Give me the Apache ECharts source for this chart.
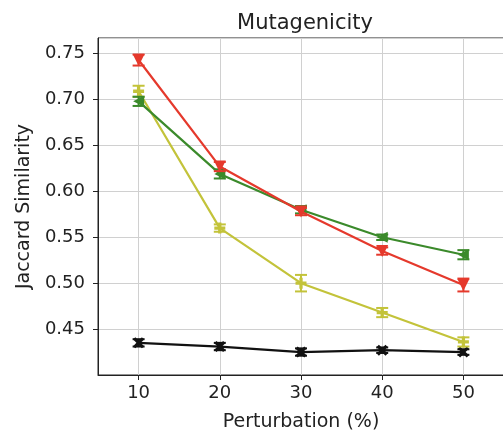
<!DOCTYPE html>
<html><head><meta charset="utf-8">
<script src="https://cdn.jsdelivr.net/npm/echarts@6/dist/echarts.min.js"></script>
<style>html,body{margin:0;padding:0;background:#fff;overflow:hidden}#c{width:508px;height:437px}</style>
</head><body><div id="c"></div>
<script>
const categories = [10, 20, 30, 40, 50];
const redVals = [0.743, 0.627, 0.578, 0.535, 0.498];
const redErr = [0.006, 0.005, 0.004, 0.004, 0.007];
const greenVals = [0.698, 0.619, 0.580, 0.550, 0.531];
const greenErr = [0.005, 0.005, 0.004, 0.003, 0.005];
const oliveVals = [0.709, 0.560, 0.500, 0.468, 0.436];
const oliveErr = [0.006, 0.004, 0.009, 0.005, 0.005];
const blackVals = [0.435, 0.431, 0.425, 0.427, 0.425];
const blackErr = [0.004, 0.004, 0.004, 0.003, 0.003];

const FONT = 'DejaVu Sans';
const X_PATH = 'path://M2,0 L5,3 L8,0 L10,2 L7,5 L10,8 L8,10 L5,7 L2,10 L0,8 L3,5 L0,2 Z';
const PLUS_PATH = 'path://M3.5,0 H6.5 V3.5 H10 V6.5 H6.5 V10 H3.5 V6.5 H0 V3.5 H3.5 Z';

function lineData(vals){ return categories.map((c,i)=>[c, vals[i]]); }
function errData(vals, errs){ return categories.map((c,i)=>[c, vals[i]-errs[i], vals[i]+errs[i]]); }
function errRender(color){
  return function(params, api){
    const x = api.value(0);
    const hi = api.coord([x, api.value(2)]);
    const lo = api.coord([x, api.value(1)]);
    const w = 6;
    const st = {stroke: color, lineWidth: 2};
    return {type:'group', children:[
      {type:'line', shape:{x1:hi[0], y1:hi[1], x2:lo[0], y2:lo[1]}, style: st},
      {type:'line', shape:{x1:hi[0]-w, y1:hi[1], x2:hi[0]+w, y2:hi[1]}, style: st},
      {type:'line', shape:{x1:lo[0]-w, y1:lo[1], x2:lo[0]+w, y2:lo[1]}, style: st}
    ]};
  };
}
function makeSeries(name, vals, errs, color, symbol, size, rotate, z){
  return [
    {type:'line', name, data: lineData(vals), color, lineStyle:{width:2.2, color},
     symbol, symbolSize: size, symbolRotate: rotate, itemStyle:{color}, z, animation:false},
    {type:'custom', name: name+'err', data: errData(vals, errs), renderItem: errRender(color),
     encode:{x:0, y:[1,2]}, z, animation:false}
  ];
}

const chart = echarts.init(document.getElementById('c'), null, {renderer:'canvas'});
chart.setOption({
  animation: false,
  backgroundColor: '#fff',
  title: {text:'Mutagenicity', left: 300, top: 8, textAlign:'center',
    textStyle:{fontFamily: FONT, fontSize: 21, fontWeight:'normal', color:'#222'}},
  grid: {left: 98, top: 38, width: 406, bottom: 60, show: true, borderColor:'#222', borderWidth: 1, backgroundColor:'transparent'},
  xAxis: {type:'value', min: 5, max: 55, splitNumber: 5,
    name:'Perturbation (%)', nameLocation:'middle', nameGap: 38,
    nameTextStyle:{fontFamily: FONT, fontSize: 19, color:'#222'},
    axisLine:{show:true, lineStyle:{color:'#222'}},
    axisTick:{show:true, length:5, lineStyle:{color:'#222'}},
    axisLabel:{fontFamily: FONT, fontSize: 18, color:'#222', margin: 9, showMinLabel:false, showMaxLabel:false},
    splitLine:{show:true, lineStyle:{color:'#d0d0d0', width:1}}},
  yAxis: {type:'value', min: 0.4, max: 0.767, interval: 0.05,
    name:'Jaccard Similarity', nameLocation:'middle', nameGap: 64,
    nameTextStyle:{fontFamily: FONT, fontSize: 19, color:'#222'},
    axisLine:{show:true, lineStyle:{color:'#222'}},
    axisTick:{show:true, length:5, lineStyle:{color:'#222'}},
    axisLabel:{fontFamily: FONT, fontSize: 18, color:'#222', margin: 13, showMinLabel:false, showMaxLabel:false,
      formatter: v => v.toFixed(2)},
    splitLine:{show:true, lineStyle:{color:'#d0d0d0', width:1}}},
  series: [].concat(
    makeSeries('black', blackVals, blackErr, '#111111', X_PATH, 11, 0, 2),
    makeSeries('olive', oliveVals, oliveErr, '#c3c33a', PLUS_PATH, 11, 0, 3),
    makeSeries('green', greenVals, greenErr, '#3b8a2b', 'triangle', 11, 90, 4),
    makeSeries('red', redVals, redErr, '#e5392c', 'triangle', 12, 180, 5)
  )
});
</script></body></html>
